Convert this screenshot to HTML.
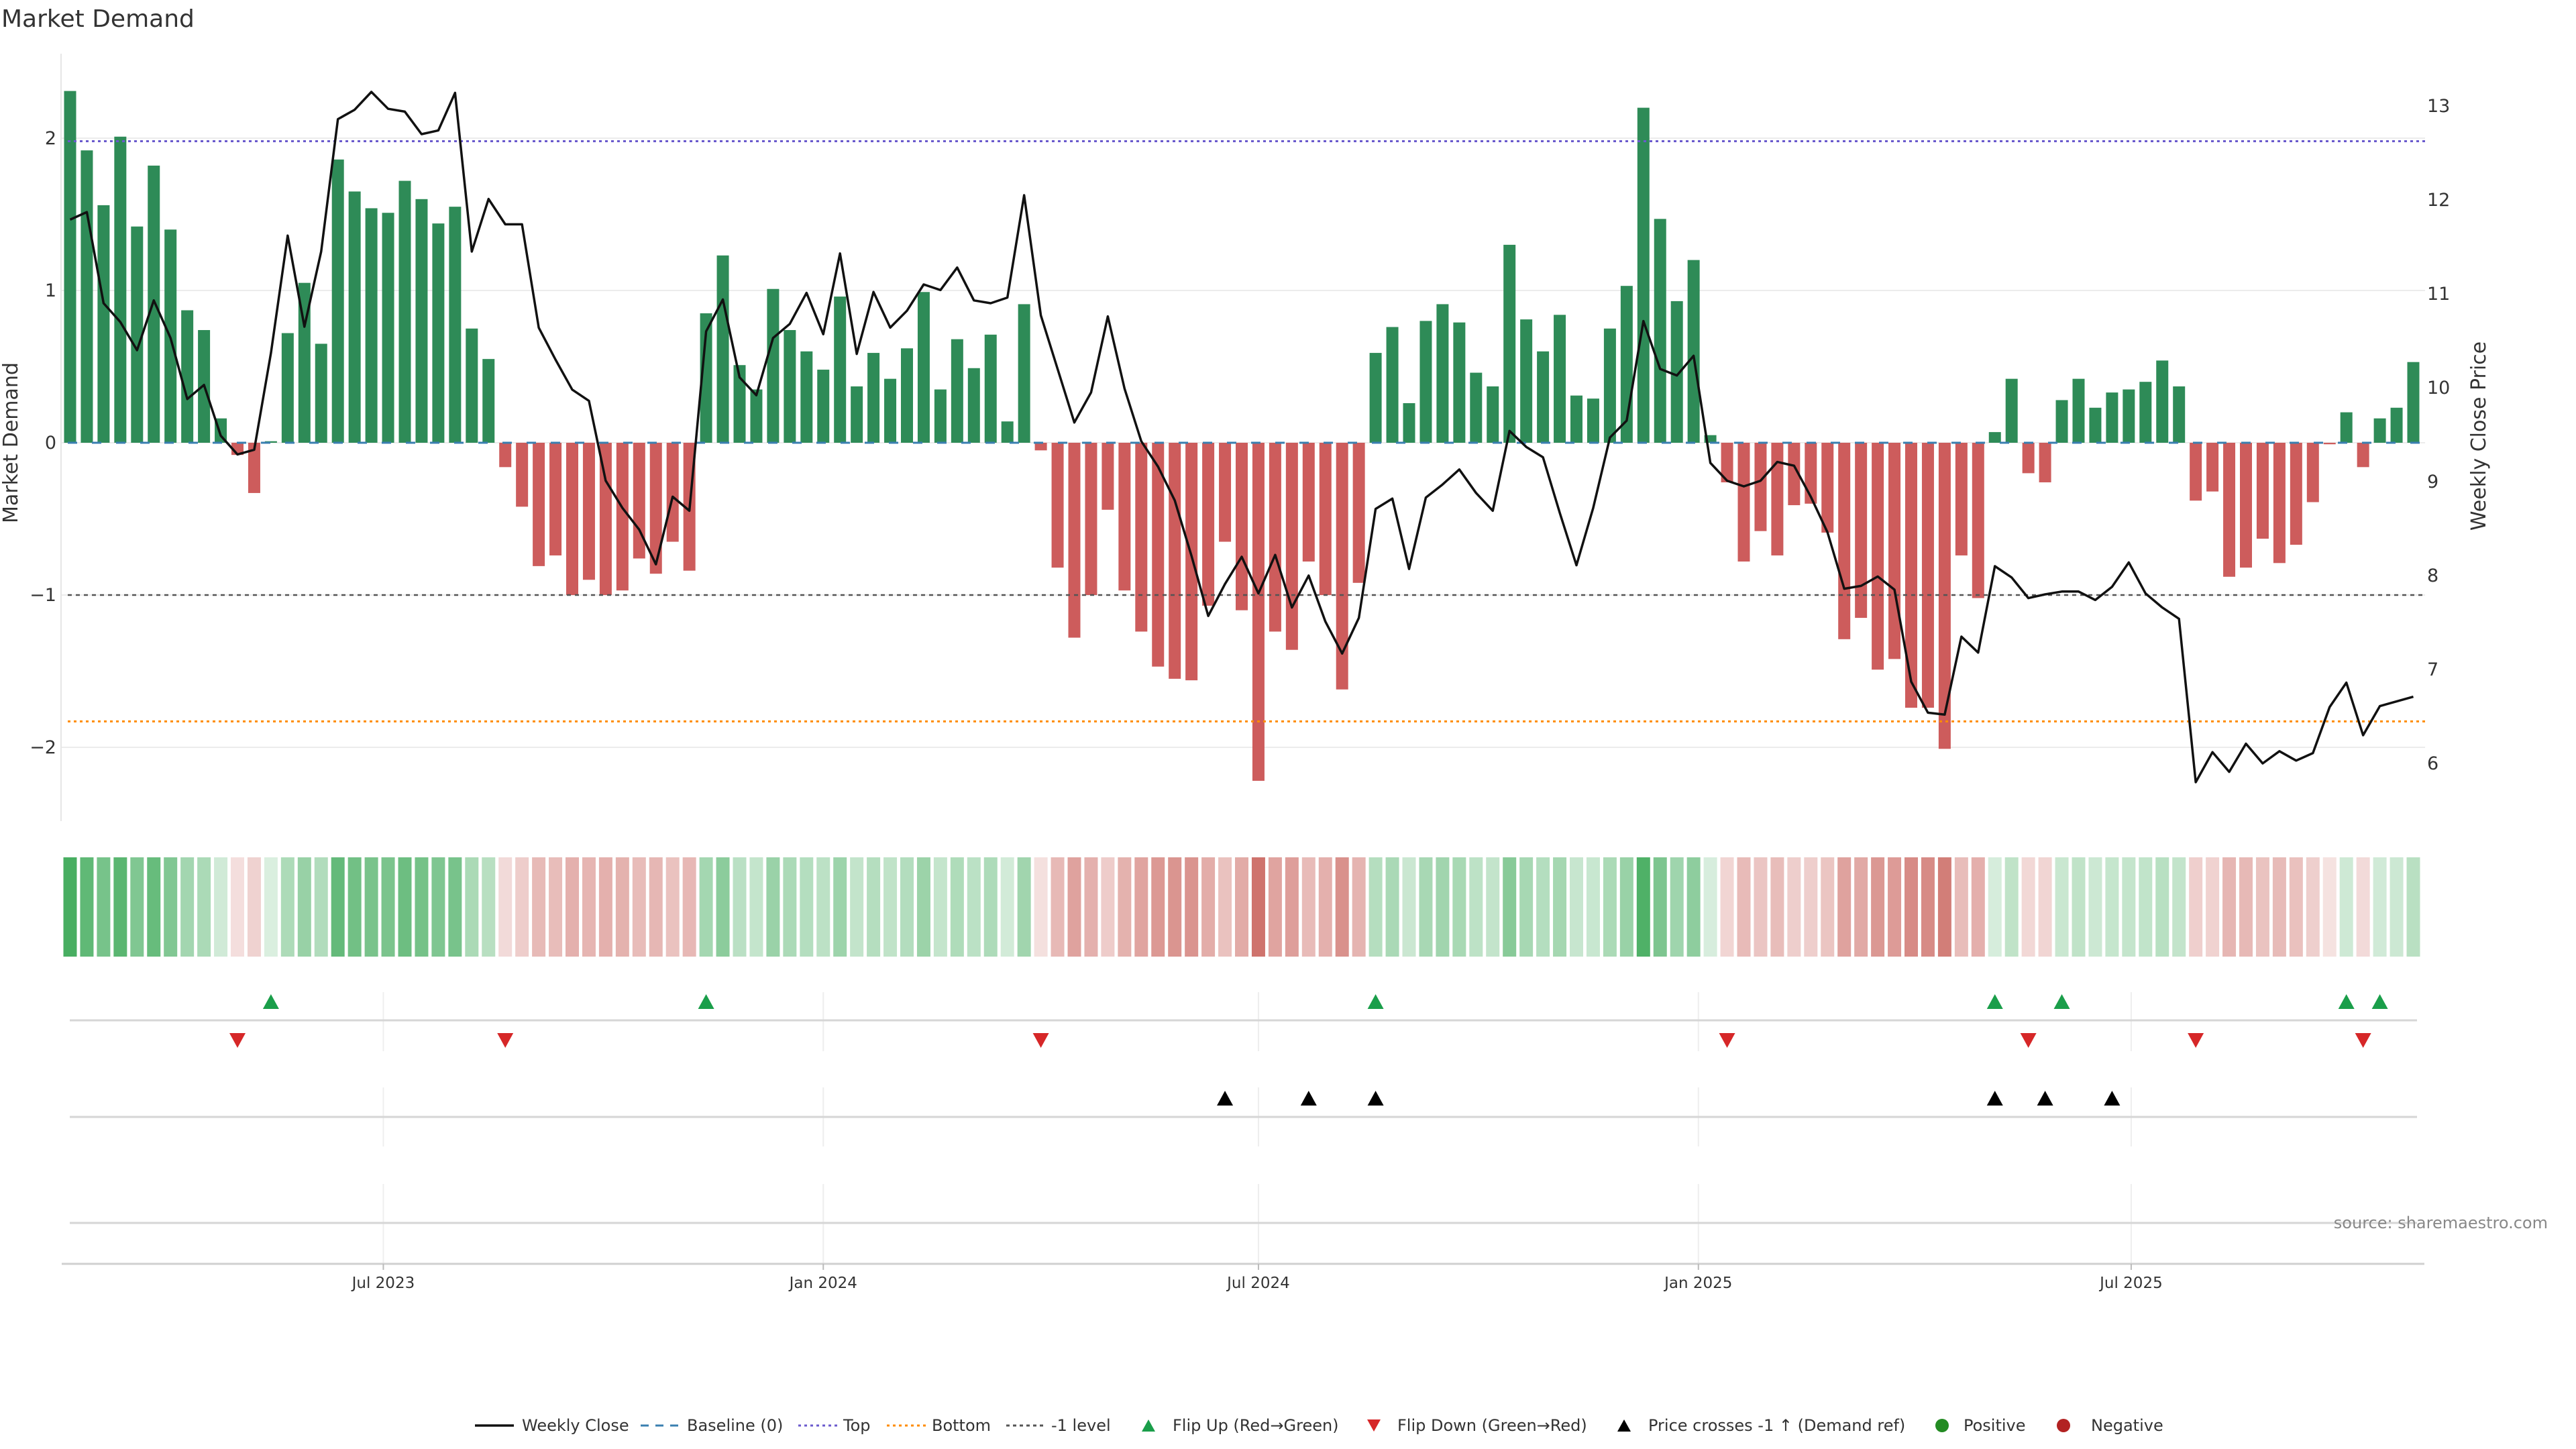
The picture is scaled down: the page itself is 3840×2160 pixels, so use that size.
<!DOCTYPE html>
<html><head><meta charset="utf-8"><style>
html,body{margin:0;padding:0;background:#fff;}
svg{display:block;font-family:"DejaVu Sans","Liberation Sans",sans-serif;}
</style></head><body>
<svg id="chart" xmlns="http://www.w3.org/2000/svg" width="3840" height="2160" viewBox="0 0 3840 2160">
<text x="2" y="40" font-size="36" fill="#333">Market Demand</text>
<g id="gMain"></g>
<g id="gHeat"></g>
<g id="gSig"></g>
<g id="gAxis"></g>
<text x="3798" y="1831" font-size="24" fill="#888" text-anchor="end">source: sharemaestro.com</text>
<g id="gLegend"></g>
</svg>
<script>
const demand = [2.31,1.92,1.56,2.01,1.42,1.82,1.40,0.87,0.74,0.16,-0.08,-0.33,0.01,0.72,1.05,0.65,1.86,1.65,1.54,1.51,1.72,1.60,1.44,1.55,0.75,0.55,-0.16,-0.42,-0.81,-0.74,-1.0,-0.90,-1.0,-0.97,-0.76,-0.86,-0.65,-0.84,0.85,1.23,0.51,0.35,1.01,0.74,0.60,0.48,0.96,0.37,0.59,0.42,0.62,0.99,0.35,0.68,0.49,0.71,0.14,0.91,-0.05,-0.82,-1.28,-1.0,-0.44,-0.97,-1.24,-1.47,-1.55,-1.56,-1.07,-0.65,-1.10,-2.22,-1.24,-1.36,-0.78,-1.0,-1.62,-0.92,0.59,0.76,0.26,0.80,0.91,0.79,0.46,0.37,1.30,0.81,0.60,0.84,0.31,0.29,0.75,1.03,2.20,1.47,0.93,1.20,0.05,-0.26,-0.78,-0.58,-0.74,-0.41,-0.40,-0.59,-1.29,-1.15,-1.49,-1.42,-1.74,-1.74,-2.01,-0.74,-1.02,0.07,0.42,-0.20,-0.26,0.28,0.42,0.23,0.33,0.35,0.40,0.54,0.37,-0.38,-0.32,-0.88,-0.82,-0.63,-0.79,-0.67,-0.39,-0.01,0.20,-0.16,0.16,0.23,0.53];
const price = [11.79,11.87,10.90,10.70,10.40,10.93,10.53,9.88,10.03,9.49,9.29,9.34,10.37,11.62,10.65,11.45,12.86,12.96,13.15,12.97,12.94,12.70,12.74,13.14,11.45,12.01,11.74,11.74,10.64,10.30,9.98,9.86,9.01,8.72,8.49,8.12,8.84,8.69,10.60,10.94,10.11,9.92,10.53,10.68,11.01,10.57,11.43,10.36,11.02,10.64,10.82,11.10,11.04,11.28,10.93,10.90,10.96,12.05,10.77,10.20,9.63,9.95,10.76,9.99,9.43,9.16,8.80,8.21,7.57,7.91,8.20,7.81,8.22,7.66,8.00,7.51,7.17,7.55,8.71,8.82,8.07,8.83,8.97,9.13,8.88,8.69,9.54,9.37,9.26,8.67,8.11,8.72,9.47,9.65,10.71,10.20,10.13,10.34,9.20,9.01,8.95,9.01,9.21,9.17,8.84,8.46,7.86,7.89,7.99,7.85,6.87,6.54,6.52,7.35,7.18,8.10,7.98,7.76,7.80,7.83,7.83,7.74,7.88,8.14,7.81,7.66,7.54,5.80,6.12,5.91,6.21,6.00,6.13,6.03,6.11,6.60,6.86,6.30,6.61,6.66,6.71];
const flipUp = [12,38,78,115,119,136,138];
const flipDown = [10,26,58,99,117,127,137];
const priceCross = [69,74,78,115,118,122];
const leftTicks = [2,1,0,-1,-2];
const rightTicks = [6,7,8,9,10,11,12,13];
const dateTicks = ["2023-07-01","2024-01-01","2024-07-01","2025-01-01","2025-07-01"];
const dateLabels = ["Jul 2023","Jan 2024","Jul 2024","Jan 2025","Jul 2025"];
const topLevel = 1.98, bottomLevel = -1.83, refLevel = -1;
const startDate = "2023-02-20";

const NS="http://www.w3.org/2000/svg";
function mk(tag, attrs, parent){const e=document.createElementNS(NS,tag);for(const k in attrs)e.setAttribute(k,attrs[k]);parent.appendChild(e);return e;}
const X0=91, X1=3615;
function xIdx(i){return 104.5+i*24.95;}
function xDate(s){const d=(new Date(s+"T00:00:00Z")-new Date(startDate+"T00:00:00Z"))/86400000/7;return xIdx(d);}
function yL(v){return 660-v*227;}
function yR(p){return 158+(13-p)*140;}

const gM=document.getElementById('gMain');
for(const t of leftTicks){
  const l=mk('line',{x1:X0,x2:X1,y1:yL(t),y2:yL(t),stroke:'#ececec','stroke-width':2},gM);
  
  
  const tx=mk('text',{x:84,y:yL(t)+9,'font-size':27,fill:'#333','text-anchor':'end'},gM);
  tx.textContent=t<0?'\u2212'+Math.abs(t):String(t);
  
  
}
const ax=mk('line',{x1:X0,x2:X0,y1:80,y2:1224,stroke:'#e6e6e6','stroke-width':2},gM);


for(const t of rightTicks){
  const tx=mk('text',{x:3618,y:yR(t)+9,'font-size':27,fill:'#333'},gM);
  tx.textContent=String(t);
  
  
}
let tt=mk('text',{x:0,y:0,'font-size':30,fill:'#333','text-anchor':'middle',transform:'translate(26,660) rotate(-90)'},gM);
tt.textContent='Market Demand';


tt=mk('text',{x:0,y:0,'font-size':30,fill:'#333','text-anchor':'middle',transform:'translate(3705,650) rotate(-90)'},gM);
tt.textContent='Weekly Close Price';


demand.forEach((v,i)=>{
  const y=Math.min(yL(v),yL(0)),h=Math.abs(yL(v)-yL(0));
  const r=mk('rect',{x:xIdx(i)-9,y:y,width:18,height:Math.max(h,0.5),fill:v>=0?'#2e8b57':'#cd5c5c'},gM);
  
  
});
let ln=mk('line',{x1:X0+10,x2:X1,y1:yL(0),y2:yL(0),stroke:'#3a7fb0','stroke-width':3,'stroke-dasharray':'14 22'},gM);


ln=mk('line',{x1:X0+10,x2:X1,y1:yL(topLevel),y2:yL(topLevel),stroke:'#6a5acd','stroke-width':3,'stroke-dasharray':'4 5'},gM);


ln=mk('line',{x1:X0+10,x2:X1,y1:yL(bottomLevel),y2:yL(bottomLevel),stroke:'#ff8c00','stroke-width':3,'stroke-dasharray':'4 5'},gM);


ln=mk('line',{x1:X0+10,x2:X1,y1:yL(refLevel),y2:yL(refLevel),stroke:'#555','stroke-width':2.5,'stroke-dasharray':'6 6'},gM);


const pl=mk('polyline',{points:price.map((p,i)=>xIdx(i)+','+yR(p)).join(' '),fill:'none',stroke:'#111','stroke-width':3.5,'stroke-linejoin':'round'},gM);



const gH=document.getElementById('gHeat');
function heatColor(v){
  const a=Math.min(0.18+0.72*Math.abs(v)/2.3,0.92);
  const b=v>=0?[52,165,80]:[200,95,88];
  return 'rgb('+b.map(c=>Math.round(255+(c-255)*a)).join(',')+')';
}
demand.forEach((v,i)=>{
  const r=mk('rect',{x:xIdx(i)-10,y:1278,width:20,height:148,fill:heatColor(v)},gH);
  
  
});

const gS=document.getElementById('gSig');
const panels=[[1479,1567,1521],[1621,1709,1665],[1765,1883,1823]];
for(const p of panels){
  for(const d of dateTicks){
    const l=mk('line',{x1:xDate(d),x2:xDate(d),y1:p[0],y2:p[1],stroke:'#eeeeee','stroke-width':2},gS);
    
    
  }
  const l=mk('line',{x1:104,x2:3603,y1:p[2],y2:p[2],stroke:'#d6d6d6','stroke-width':3},gS);
  
  
}
function tri(x,y,up,fill,name){
  const pts=up?[[x-12,y+11],[x+12,y+11],[x,y-11]]:[[x-12,y-11],[x+12,y-11],[x,y+11]];
  const t=mk('polygon',{points:pts.map(q=>q.join(',')).join(' '),fill:fill},gS);
  
  
}
flipUp.forEach(i=>tri(xIdx(i),1493,true,'#1a9e4a','flip-up-marker'));
flipDown.forEach(i=>tri(xIdx(i),1551,false,'#d62728','flip-down-marker'));
priceCross.forEach(i=>tri(xIdx(i),1637,true,'#000','price-cross-marker'));

const gA=document.getElementById('gAxis');
let al=mk('line',{x1:92,x2:3614,y1:1884,y2:1884,stroke:'#d0d0d0','stroke-width':3},gA);


dateTicks.forEach((d,i)=>{
  const x=xDate(d);
  const t=mk('line',{x1:x,x2:x,y1:1884,y2:1893,stroke:'#bbb','stroke-width':2},gA);
  
  
  const tx=mk('text',{x:x,y:1920,'font-size':23,fill:'#333','text-anchor':'middle'},gA);
  tx.textContent=dateLabels[i];
  
  
});

const gL=document.getElementById('gLegend');
const LY=2125;
function ltext(x,s){const t=mk('text',{x:x,y:LY+8,'font-size':24,fill:'#333'},gL);t.textContent=s;}
function lline(x,stroke,w,dash){const l=mk('line',{x1:x,x2:x+58,y1:LY,y2:LY,stroke:stroke,'stroke-width':w,'stroke-dasharray':dash},gL);}
lline(708,'#111',3.5,'none');ltext(778,'Weekly Close');
lline(955,'#3a7fb0',3,'12 10');ltext(1024,'Baseline (0)');
lline(1190,'#6a5acd',3,'4 5');ltext(1257,'Top');
lline(1322,'#ff8c00',3,'4 5');ltext(1389,'Bottom');
lline(1500,'#555',3,'5 5');ltext(1567,'-1 level');
function ltri(x,up,fill){const pts=up?[[x-10,LY+9],[x+10,LY+9],[x,LY-9]]:[[x-10,LY-9],[x+10,LY-9],[x,LY+9]];const t=mk('polygon',{points:pts.map(q=>q.join(',')).join(' '),fill:fill},gL);}
ltri(1712,true,'#1a9e4a');ltext(1748,'Flip Up (Red\u2192Green)');
ltri(2048,false,'#d62728');ltext(2083,'Flip Down (Green\u2192Red)');
ltri(2421,true,'#000');ltext(2457,'Price crosses -1 \u2191 (Demand ref)');
let c=mk('circle',{cx:2895,cy:LY,r:10,fill:'#228b22'},gL);
ltext(2927,'Positive');
c=mk('circle',{cx:3076,cy:LY,r:10,fill:'#b22222'},gL);
ltext(3117,'Negative');
</script>
</body></html>
